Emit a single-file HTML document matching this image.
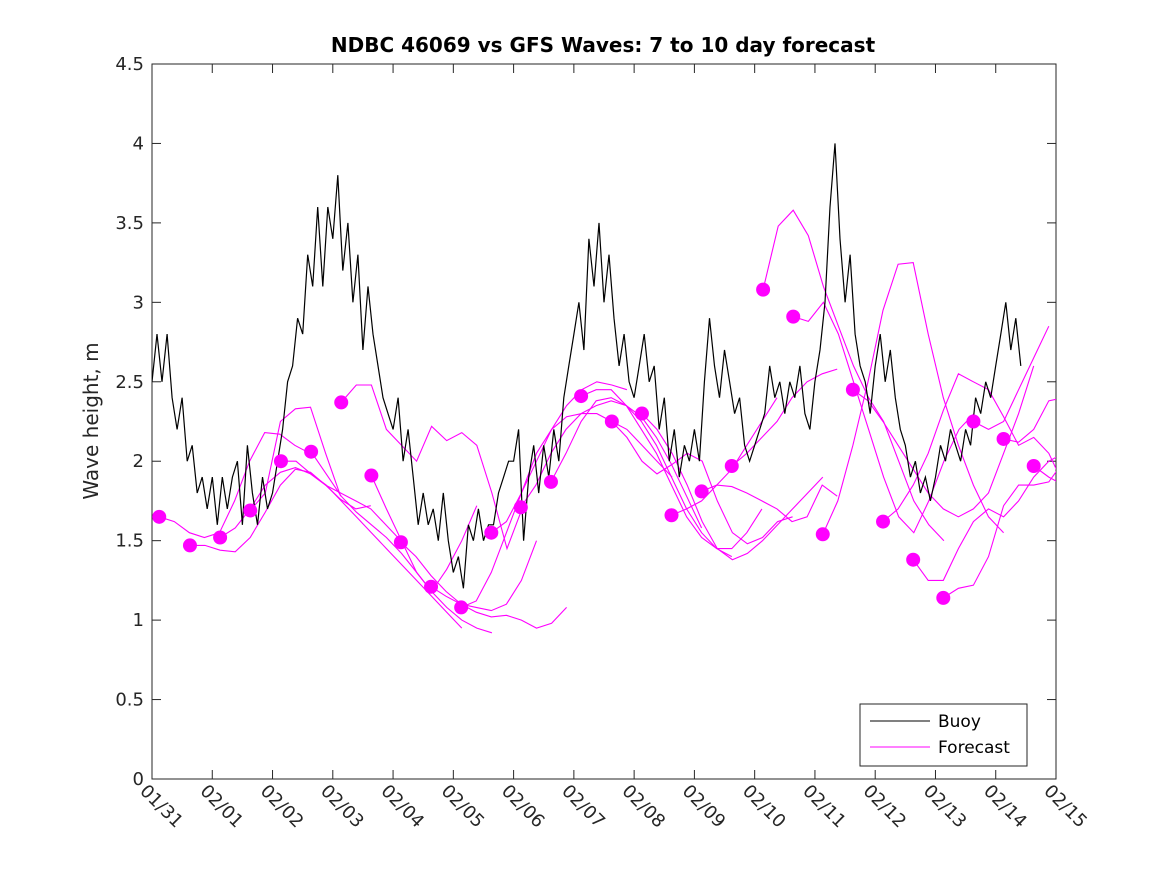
<!DOCTYPE html>
<html><head><meta charset="utf-8"><style>
body{margin:0;background:#fff;}
svg{display:block;font-family:"DejaVu Sans","Liberation Sans",sans-serif;}
</style></head><body>
<svg id="chart" width="1167" height="875" viewBox="0 0 1167 875">
<defs><clipPath id="pc"><rect x="152" y="64" width="904" height="715"/></clipPath></defs>
<rect x="0" y="0" width="1167" height="875" fill="#fff"/>
<text x="603" y="52" text-anchor="middle" font-size="20" font-weight="bold" fill="#000">NDBC 46069 vs GFS Waves: 7 to 10 day forecast</text>
<rect x="152" y="64" width="904" height="715" fill="none" stroke="#262626" stroke-width="1"/>
<g id="yaxis"></g>
<g id="xaxis"></g>
<text transform="translate(98,421) rotate(-90)" text-anchor="middle" font-size="20" fill="#262626">Wave height, m</text>
<g id="forecast" clip-path="url(#pc)"></g>
<g id="buoy" clip-path="url(#pc)"></g>
<g id="dots" clip-path="url(#pc)"></g>
<g>
<rect x="860" y="704" width="167" height="62" fill="#fff" stroke="#262626" stroke-width="1"/>
<line x1="870" y1="721" x2="930" y2="721" stroke="#000" stroke-width="1"/>
<text x="938" y="727" font-size="17" fill="#000">Buoy</text>
<line x1="870" y1="747" x2="930" y2="747" stroke="#ff00ff" stroke-width="1"/>
<text x="938" y="753" font-size="17" fill="#000">Forecast</text>
</g>
</svg>
<script>
const yTicks=[0,0.5,1,1.5,2,2.5,3,3.5,4,4.5];
const yTickLabels=["0","0.5","1","1.5","2","2.5","3","3.5","4","4.5"];
const xTickLabels=["01/31","02/01","02/02","02/03","02/04","02/05","02/06","02/07","02/08","02/09","02/10","02/11","02/12","02/13","02/14","02/15"];
const buoyPerDay=12;
const buoyValues=[
2.5,2.8,2.5,2.8,2.4,2.2,2.4,2.0,2.1,1.8,1.9,1.7,
1.9,1.6,1.9,1.7,1.9,2.0,1.6,2.1,1.8,1.6,1.9,1.7,
1.8,2.0,2.2,2.5,2.6,2.9,2.8,3.3,3.1,3.6,3.1,3.6,
3.4,3.8,3.2,3.5,3.0,3.3,2.7,3.1,2.8,2.6,2.4,2.3,
2.2,2.4,2.0,2.2,1.9,1.6,1.8,1.6,1.7,1.5,1.8,1.5,
1.3,1.4,1.2,1.6,1.5,1.7,1.5,1.6,1.6,1.8,1.9,2.0,
2.0,2.2,1.5,1.9,2.1,1.8,2.1,1.9,2.2,2.0,2.4,2.6,
2.8,3.0,2.7,3.4,3.1,3.5,3.0,3.3,2.9,2.6,2.8,2.5,
2.4,2.6,2.8,2.5,2.6,2.2,2.4,2.0,2.2,1.9,2.1,2.0,
2.2,2.0,2.5,2.9,2.6,2.4,2.7,2.5,2.3,2.4,2.1,2.0,
2.1,2.2,2.3,2.6,2.4,2.5,2.3,2.5,2.4,2.6,2.3,2.2,
2.5,2.7,3.0,3.6,4.0,3.4,3.0,3.3,2.8,2.6,2.5,2.3,
2.6,2.8,2.5,2.7,2.4,2.2,2.1,1.9,2.0,1.8,1.9,1.75,
1.9,2.1,2.0,2.2,2.1,2.0,2.2,2.1,2.4,2.3,2.5,2.4,
2.6,2.8,3.0,2.7,2.9,2.6];
const dotDays=[0.12,0.63,1.13,1.63,2.14,2.64,3.14,3.64,4.13,4.63,5.13,5.63,6.12,6.62,7.12,7.63,8.13,8.62,9.12,9.62,10.14,10.64,11.13,11.63,12.13,12.63,13.13,13.63,14.13,14.63];
const dotValues=[1.65,1.47,1.52,1.69,2.0,2.06,2.37,1.91,1.49,1.21,1.08,1.55,1.71,1.87,2.41,2.25,2.30,1.66,1.81,1.97,3.08,2.91,1.54,2.45,1.62,1.38,1.14,2.25,2.14,1.97];
const forecastStepDays=0.25;
const forecastTracks=[
[1.65,1.62,1.55,1.52,1.55,1.75,2.0,2.18,2.17,2.10,2.05],
[1.47,1.47,1.44,1.43,1.52,1.68,1.85,1.95,1.93,1.85,1.76,1.70,1.72],
[1.52,1.58,1.70,1.85,1.93,1.96,1.92,1.85,1.80,1.75,1.70,1.60,1.50],
[1.69,1.80,2.25,2.33,2.34,2.05,1.78],
[2.0,2.0,1.92,1.85,1.75,1.65,1.55,1.45,1.35,1.25,1.15,1.05,0.95],
[2.06,1.92,1.78,1.68,1.60,1.52,1.42,1.30,1.18,1.08,1.0,0.95,0.92],
[2.37,2.48,2.48,2.2,2.1,2.0,2.22,2.13,2.18,2.1,1.80,1.45,1.70],
[1.91,1.70,1.50,1.30,1.18,1.32,1.50,1.72],
[1.49,1.40,1.28,1.18,1.10,1.05,1.02,1.03,1.0,0.95,0.98,1.08],
[1.21,1.15,1.10,1.08,1.06,1.10,1.25,1.50],
[1.08,1.12,1.30,1.55,1.80,2.0,2.20,2.35,2.45,2.50,2.48,2.45],
[1.55,1.62,1.80,2.05,2.20,2.28,2.30,2.30,2.25,2.20,2.10,2.00,1.90],
[1.71,1.85,2.05,2.20,2.30,2.35,2.38,2.35,2.28,2.15,1.98,1.78,1.58],
[1.87,2.05,2.25,2.38,2.40,2.35,2.25,2.10,1.90,1.70,1.55,1.45,1.40],
[2.41,2.45,2.45,2.35,2.20,2.05,1.85,1.65,1.52,1.45,1.45,1.55,1.70],
[2.25,2.15,2.0,1.92,1.98,2.05,2.0,1.75,1.55,1.48,1.52,1.62,1.65],
[2.30,2.20,2.05,1.85,1.62,1.45,1.38,1.42,1.50,1.60,1.70,1.80,1.90],
[1.66,1.70,1.75,1.85,1.95,2.10,2.25,2.40],
[1.81,1.85,1.84,1.80,1.75,1.70,1.62,1.65,1.85,1.78],
[1.97,2.05,2.15,2.25,2.40,2.50,2.55,2.58],
[3.08,3.48,3.58,3.42,3.10,2.85,2.60,2.40,2.25,2.0,1.75,1.60,1.50],
[2.91,2.88,3.0,2.80,2.50,2.20,1.90,1.65,1.55,1.75,2.00,2.20,2.30],
[1.54,1.75,2.10,2.50,2.95,3.24,3.25,2.80,2.40,2.10,1.85,1.65,1.55],
[2.45,2.38,2.25,2.10,1.95,1.80,1.70,1.65,1.70,1.80,2.05,2.30,2.60],
[1.62,1.70,1.85,2.05,2.32,2.55,2.50,2.45,2.28,2.10,2.15,2.05,1.85],
[1.38,1.25,1.25,1.45,1.62,1.70,1.65,1.75,1.90,2.0,2.05],
[1.14,1.20,1.22,1.40,1.72,1.85,1.85,1.87,2.0,2.3],
[2.25,2.20,2.25,2.45,2.65,2.85],
[2.14,2.12,2.20,2.38,2.40,2.28],
[1.97,1.90,1.85,2.0,2.95]];

const X0=152,X1=1056,Y0=779,Y1=64,DMAX=15,VMAX=4.5;
function xs(d){return X0+(X1-X0)*d/DMAX;}
function ys(v){return Y0-(Y0-Y1)*v/VMAX;}
const NS="http://www.w3.org/2000/svg";
function mk(tag,attrs,parent){const e=document.createElementNS(NS,tag);for(const k in attrs)e.setAttribute(k,attrs[k]);parent.appendChild(e);return e;}

const ya=document.getElementById('yaxis');
yTicks.forEach((v,i)=>{
  const t=mk('line',{x1:X0,x2:X0+9,y1:ys(v),y2:ys(v),stroke:'#262626'},ya);
  
  
  const t2=mk('line',{x1:X1-9,x2:X1,y1:ys(v),y2:ys(v),stroke:'#262626'},ya);
  
  
  const l=mk('text',{x:X0-8,y:ys(v)+6,'text-anchor':'end','font-size':'18',fill:'#262626'},ya);
  l.textContent=yTickLabels[i];
  
  
});
const xa=document.getElementById('xaxis');
xTickLabels.forEach((s,i)=>{
  const x=xs(i);
  const t=mk('line',{x1:x,x2:x,y1:Y0,y2:Y0-9,stroke:'#262626'},xa);
  
  
  const t2=mk('line',{x1:x,x2:x,y1:Y1,y2:Y1+9,stroke:'#262626'},xa);
  
  
  const l=mk('text',{transform:`translate(${x-13},${Y0+13}) rotate(45)`,'font-size':'18',fill:'#262626'},xa);
  l.textContent=s;
  
  
});

const fg=document.getElementById('forecast');
forecastTracks.forEach((tr,i)=>{
  const pts=tr.map((v,j)=>xs(dotDays[i]+j*forecastStepDays).toFixed(1)+','+ys(v).toFixed(1)).join(' ');
  const p=mk('polyline',{points:pts,fill:'none',stroke:'#ff00ff','stroke-width':'1.1'},fg);
  
  
});

const bg=document.getElementById('buoy');
const bpts=buoyValues.map((v,i)=>xs(i/buoyPerDay).toFixed(1)+','+ys(v).toFixed(1)).join(' ');
const bl=mk('polyline',{points:bpts,fill:'none',stroke:'#000','stroke-width':'1.2'},bg);



const dg=document.getElementById('dots');
dotDays.forEach((d,i)=>{
  const c=mk('circle',{cx:xs(d),cy:ys(dotValues[i]),r:7,fill:'#ff00ff'},dg);
  
  
});
</script>
</body></html>
